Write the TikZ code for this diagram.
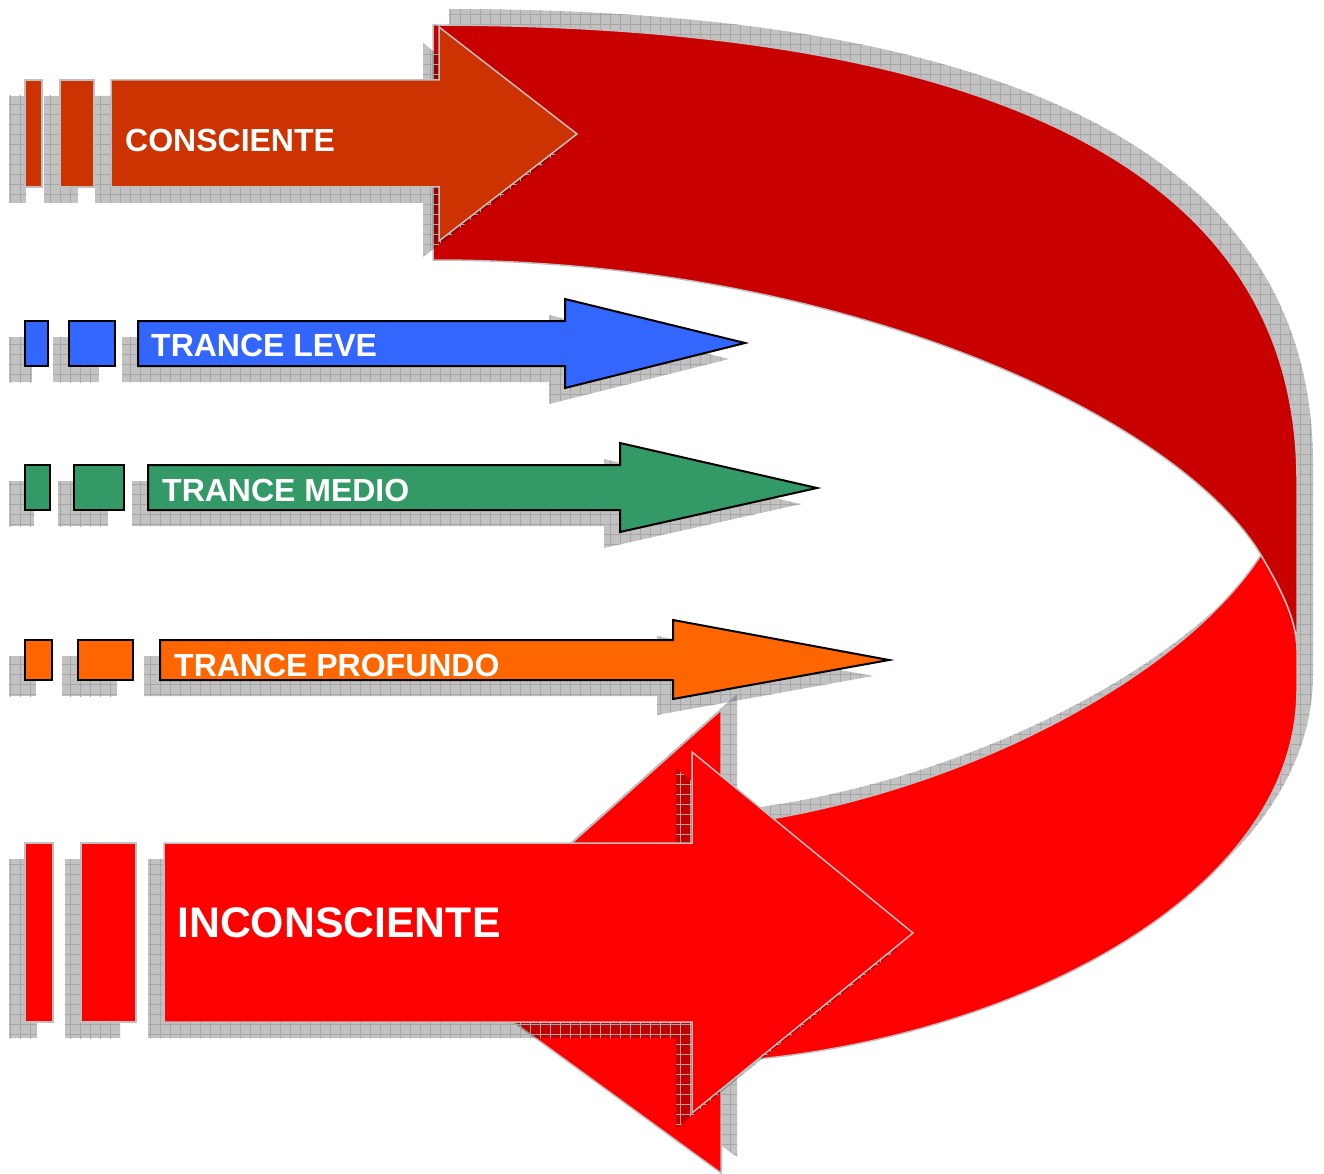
\documentclass[tikz,border=0pt]{standalone}
\usepackage{fontspec}
\setmainfont{Liberation Sans}
\usetikzlibrary{patterns.meta}
\definecolor{cons}{HTML}{CC3300}
\definecolor{dkred}{HTML}{C80000}
\definecolor{brred}{HTML}{FF0000}
\definecolor{leve}{HTML}{3366FF}
\definecolor{medio}{HTML}{339966}
\definecolor{prof}{HTML}{FF6600}
\definecolor{rim}{HTML}{BFBFBF}
\definecolor{gridc}{HTML}{A6A6A6}
\def\DarkBand{(433,25) .. controls (950,25) and (1297,150) .. (1297,480) -- (1297,650) .. controls (1297,620) and (1281,589) .. (1261,555) .. controls (1180,420) and (850,260) .. (433,260) -- cycle}
\def\BrightBand{(721,826) -- (721,710) -- (435,965) -- (721,1173) -- (721,1062) .. controls (1000,1045) and (1297,900) .. (1297,690) -- (1297,650) .. controls (1297,620) and (1281,589) .. (1261,555) .. controls (1180,680) and (950,800) .. (721,826) -- cycle}
\def\ConsBody{(111,80) -- (439,80) -- (439,27) -- (577,134) -- (439,241) -- (439,187) -- (111,187) -- cycle}
\def\LeveBody{(138,321) -- (565,321) -- (565,299) -- (745,343) -- (565,388) -- (565,366) -- (138,366) -- cycle}
\def\MedioBody{(148,465) -- (620,465) -- (620,443) -- (817,488) -- (620,532) -- (620,510) -- (148,510) -- cycle}
\def\ProfBody{(160,640) -- (673,640) -- (673,620) -- (889,660) -- (673,699) -- (673,680) -- (160,680) -- cycle}
\def\InconsBody{(164,843) -- (692,843) -- (692,752) -- (913,933) -- (692,1113) -- (692,1022) -- (164,1022) -- cycle}
\begin{document}
\begin{tikzpicture}[x=1pt,y=-1pt,
  shd/.style={fill=black,fill opacity=.24,
    postaction={pattern={Hatch[angle=0,distance=10pt,line width=.5pt]},pattern color=gridc,fill opacity=1}},
  lshd/.style={shd,shift={(-16,16)}},
  rshd/.style={shd,shift={(16,-16)}},
  rimmed/.style={draw=rim,line width=1.5pt,line join=miter},
  blk/.style={draw=black,line width=2pt,line join=miter},
  lbl/.style={anchor=base west,inner sep=0pt,text=white,font=\bfseries\fontsize{32}{38}\selectfont}]
\useasboundingbox[fill=white] (0,0) rectangle (1324,1174);

% big curved arrow
\path[rshd] \DarkBand;
\path[rshd] \BrightBand;
\path[fill=brred,rimmed] \BrightBand;
\path[fill=dkred,rimmed] \DarkBand;

% CONSCIENTE
\path[lshd] (25,80) rectangle (42,187);
\path[lshd] (60,80) rectangle (94,187);
\path[lshd] \ConsBody;
\path[fill=cons,rimmed] (25,80) rectangle (42,187);
\path[fill=cons,rimmed] (60,80) rectangle (94,187);
\path[fill=cons,rimmed] \ConsBody;
\node[lbl] (consciente) at (125,152) {CONSCIENTE};

% TRANCE LEVE
\path[lshd] (25,321) rectangle (48,366);
\path[lshd] (69,321) rectangle (115,366);
\path[lshd] \LeveBody;
\path[fill=leve,blk] (25,321) rectangle (48,366);
\path[fill=leve,blk] (69,321) rectangle (115,366);
\path[fill=leve,blk] \LeveBody;
\node[lbl] (leve) at (151,356) {TRANCE LEVE};

% TRANCE MEDIO
\path[lshd] (25,465) rectangle (50,510);
\path[lshd] (74,465) rectangle (124,510);
\path[lshd] \MedioBody;
\path[fill=medio,blk] (25,465) rectangle (50,510);
\path[fill=medio,blk] (74,465) rectangle (124,510);
\path[fill=medio,blk] \MedioBody;
\node[lbl] (medio) at (162,501) {TRANCE MEDIO};

% TRANCE PROFUNDO
\path[lshd] (25,640) rectangle (52,680);
\path[lshd] (78,640) rectangle (133,680);
\path[lshd] \ProfBody;
\path[fill=prof,blk] (25,640) rectangle (52,680);
\path[fill=prof,blk] (78,640) rectangle (133,680);
\path[fill=prof,blk] \ProfBody;
\node[lbl] (profundo) at (174,676) {TRANCE PROFUNDO};

% INCONSCIENTE
\path[lshd] (25,843) rectangle (53,1022);
\path[lshd] (81,843) rectangle (136,1022);
\path[lshd] \InconsBody;
\path[fill=brred,rimmed] (25,843) rectangle (53,1022);
\path[fill=brred,rimmed] (81,843) rectangle (136,1022);
\path[fill=brred,rimmed] \InconsBody;
\node[lbl,font=\bfseries\fontsize{42.8}{50}\selectfont] (incons) at (177,937) {INCONSCIENTE};
\end{tikzpicture}
\end{document}
